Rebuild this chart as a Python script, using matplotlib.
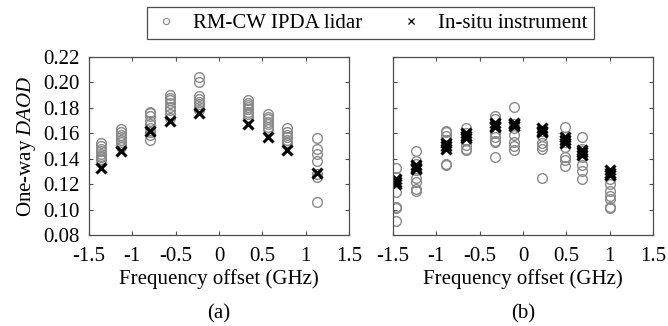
import matplotlib
matplotlib.use("Agg")
import matplotlib.pyplot as plt
from matplotlib.lines import Line2D

plt.rcParams['font.family'] = ['Liberation Serif', 'DejaVu Serif']
plt.rcParams['mathtext.fontset'] = 'custom'
plt.rcParams['mathtext.it'] = 'Liberation Serif:italic'
plt.rcParams['mathtext.rm'] = 'Liberation Serif'

# panel (a)
a_freq = [-1.36, -1.13, -0.80, -0.57, -0.23, 0.34, 0.57, 0.79, 1.13]
a_lidar = [
    [0.152, 0.150, 0.148, 0.146, 0.144, 0.142, 0.141, 0.140, 0.139],
    [0.163, 0.161, 0.159, 0.157, 0.155, 0.153, 0.151, 0.149],
    [0.177, 0.176, 0.174, 0.170, 0.167, 0.164, 0.161, 0.159, 0.155],
    [0.190, 0.188, 0.186, 0.184, 0.181, 0.178, 0.175, 0.172],
    [0.204, 0.200, 0.189, 0.187, 0.185, 0.183, 0.181, 0.178],
    [0.186, 0.184, 0.182, 0.181, 0.179, 0.177, 0.175, 0.173],
    [0.175, 0.173, 0.171, 0.169, 0.167, 0.165, 0.163],
    [0.164, 0.161, 0.159, 0.157, 0.155, 0.153, 0.152],
    [0.156, 0.148, 0.144, 0.138, 0.128, 0.126, 0.106],
]
a_insitu = [[0.133], [0.146], [0.162], [0.170], [0.176], [0.167], [0.157], [0.147], [0.129]]

# panel (b)
b_freq = [-1.46, -1.23, -0.89, -0.66, -0.32, -0.10, 0.22, 0.48, 0.68, 1.00]
b_lidar = [
    [0.133, 0.126, 0.114, 0.102, 0.101, 0.091],
    [0.146, 0.138, 0.136, 0.131, 0.125, 0.122, 0.116, 0.115],
    [0.162, 0.161, 0.158, 0.155, 0.151, 0.136, 0.135],
    [0.164, 0.160, 0.155, 0.151, 0.148, 0.147],
    [0.174, 0.171, 0.160, 0.157, 0.154, 0.153, 0.141],
    [0.181, 0.167, 0.164, 0.159, 0.153, 0.150, 0.147],
    [0.162, 0.158, 0.152, 0.150, 0.148, 0.125],
    [0.165, 0.157, 0.153, 0.149, 0.141, 0.139, 0.134],
    [0.157, 0.148, 0.146, 0.141, 0.135, 0.130, 0.124],
    [0.124, 0.120, 0.115, 0.111, 0.108, 0.102, 0.101],
]
b_insitu = [
    [0.124, 0.122, 0.120],
    [0.135, 0.133, 0.132],
    [0.152, 0.150, 0.148],
    [0.160, 0.158, 0.156],
    [0.168, 0.166, 0.165],
    [0.168, 0.167, 0.166],
    [0.164, 0.162, 0.161],
    [0.157, 0.155, 0.152],
    [0.147, 0.145, 0.143],
    [0.131, 0.129, 0.127],
]

xticks = [-1.5, -1, -0.5, 0, 0.5, 1, 1.5]
xticklabels = ['-1.5', '-1', '-0.5', '0', '0.5', '1', '1.5']
yticks = [0.08, 0.10, 0.12, 0.14, 0.16, 0.18, 0.20, 0.22]

fs = 15
fig = plt.figure(figsize=(6.68, 3.26), dpi=100)
ax1 = fig.add_axes([0.1332, 0.2791, 0.3892, 0.546])
ax2 = fig.add_axes([0.5883, 0.2791, 0.3892, 0.546])

grey = '#8a8a8a'


def draw(ax, freq, lidar, insitu):
    for f, vals in zip(freq, lidar):
        ax.plot([f] * len(vals), vals, 'o', ms=7, mfc='none', mec=grey, mew=1.0)
    for f, vals in zip(freq, insitu):
        ax.plot([f] * len(vals), vals, 'x', ms=7, color='black', mew=2.2)
    ax.set_xlim(-1.5, 1.5)
    ax.set_ylim(0.08, 0.22)
    ax.set_xticks(xticks)
    ax.set_xticklabels(xticklabels)
    ax.set_yticks(yticks)
    ax.tick_params(direction='in', top=True, right=True, labelsize=fs,
                   length=3, width=0.8, color='0.3')
    ax.tick_params(axis='x', pad=8.5)
    ax.tick_params(axis='y', pad=6.5)
    for s in ax.spines.values():
        s.set_color('0.3')
        s.set_linewidth(0.9)
    ax.set_xlabel('Frequency offset (GHz)', fontsize=fs, labelpad=2.5)


draw(ax1, a_freq, a_lidar, a_insitu)
draw(ax2, b_freq, b_lidar, b_insitu)
ax1.set_yticklabels(['%.2f' % v for v in yticks])
ax2.set_yticklabels([])
ax1.set_ylabel('One-way $\\mathit{DAOD}$', fontsize=fs, labelpad=4)

fig.text(0.3278, 0.037, '(a)', ha='center', va='center', fontsize=fs)
fig.text(0.7829, 0.037, '(b)', ha='center', va='center', fontsize=fs)

handles = [
    Line2D([], [], ls='none', marker='o', ms=4.5, mfc='none', mec=grey, mew=0.8),
    Line2D([], [], ls='none', marker='x', ms=5, color='black', mew=0.9),
]
leg = fig.legend(handles, ['RM-CW IPDA lidar', 'In-situ instrument'],
                 loc='center', bbox_to_anchor=(0.555, 0.929), ncol=2,
                 fontsize=fs, frameon=True, fancybox=False, framealpha=1,
                 edgecolor='0.3', borderpad=0.3, handletextpad=0.7,
                 columnspacing=1.75, handlelength=1.2)
leg.get_frame().set_linewidth(0.9)

fig.savefig('out.png', dpi=100)
